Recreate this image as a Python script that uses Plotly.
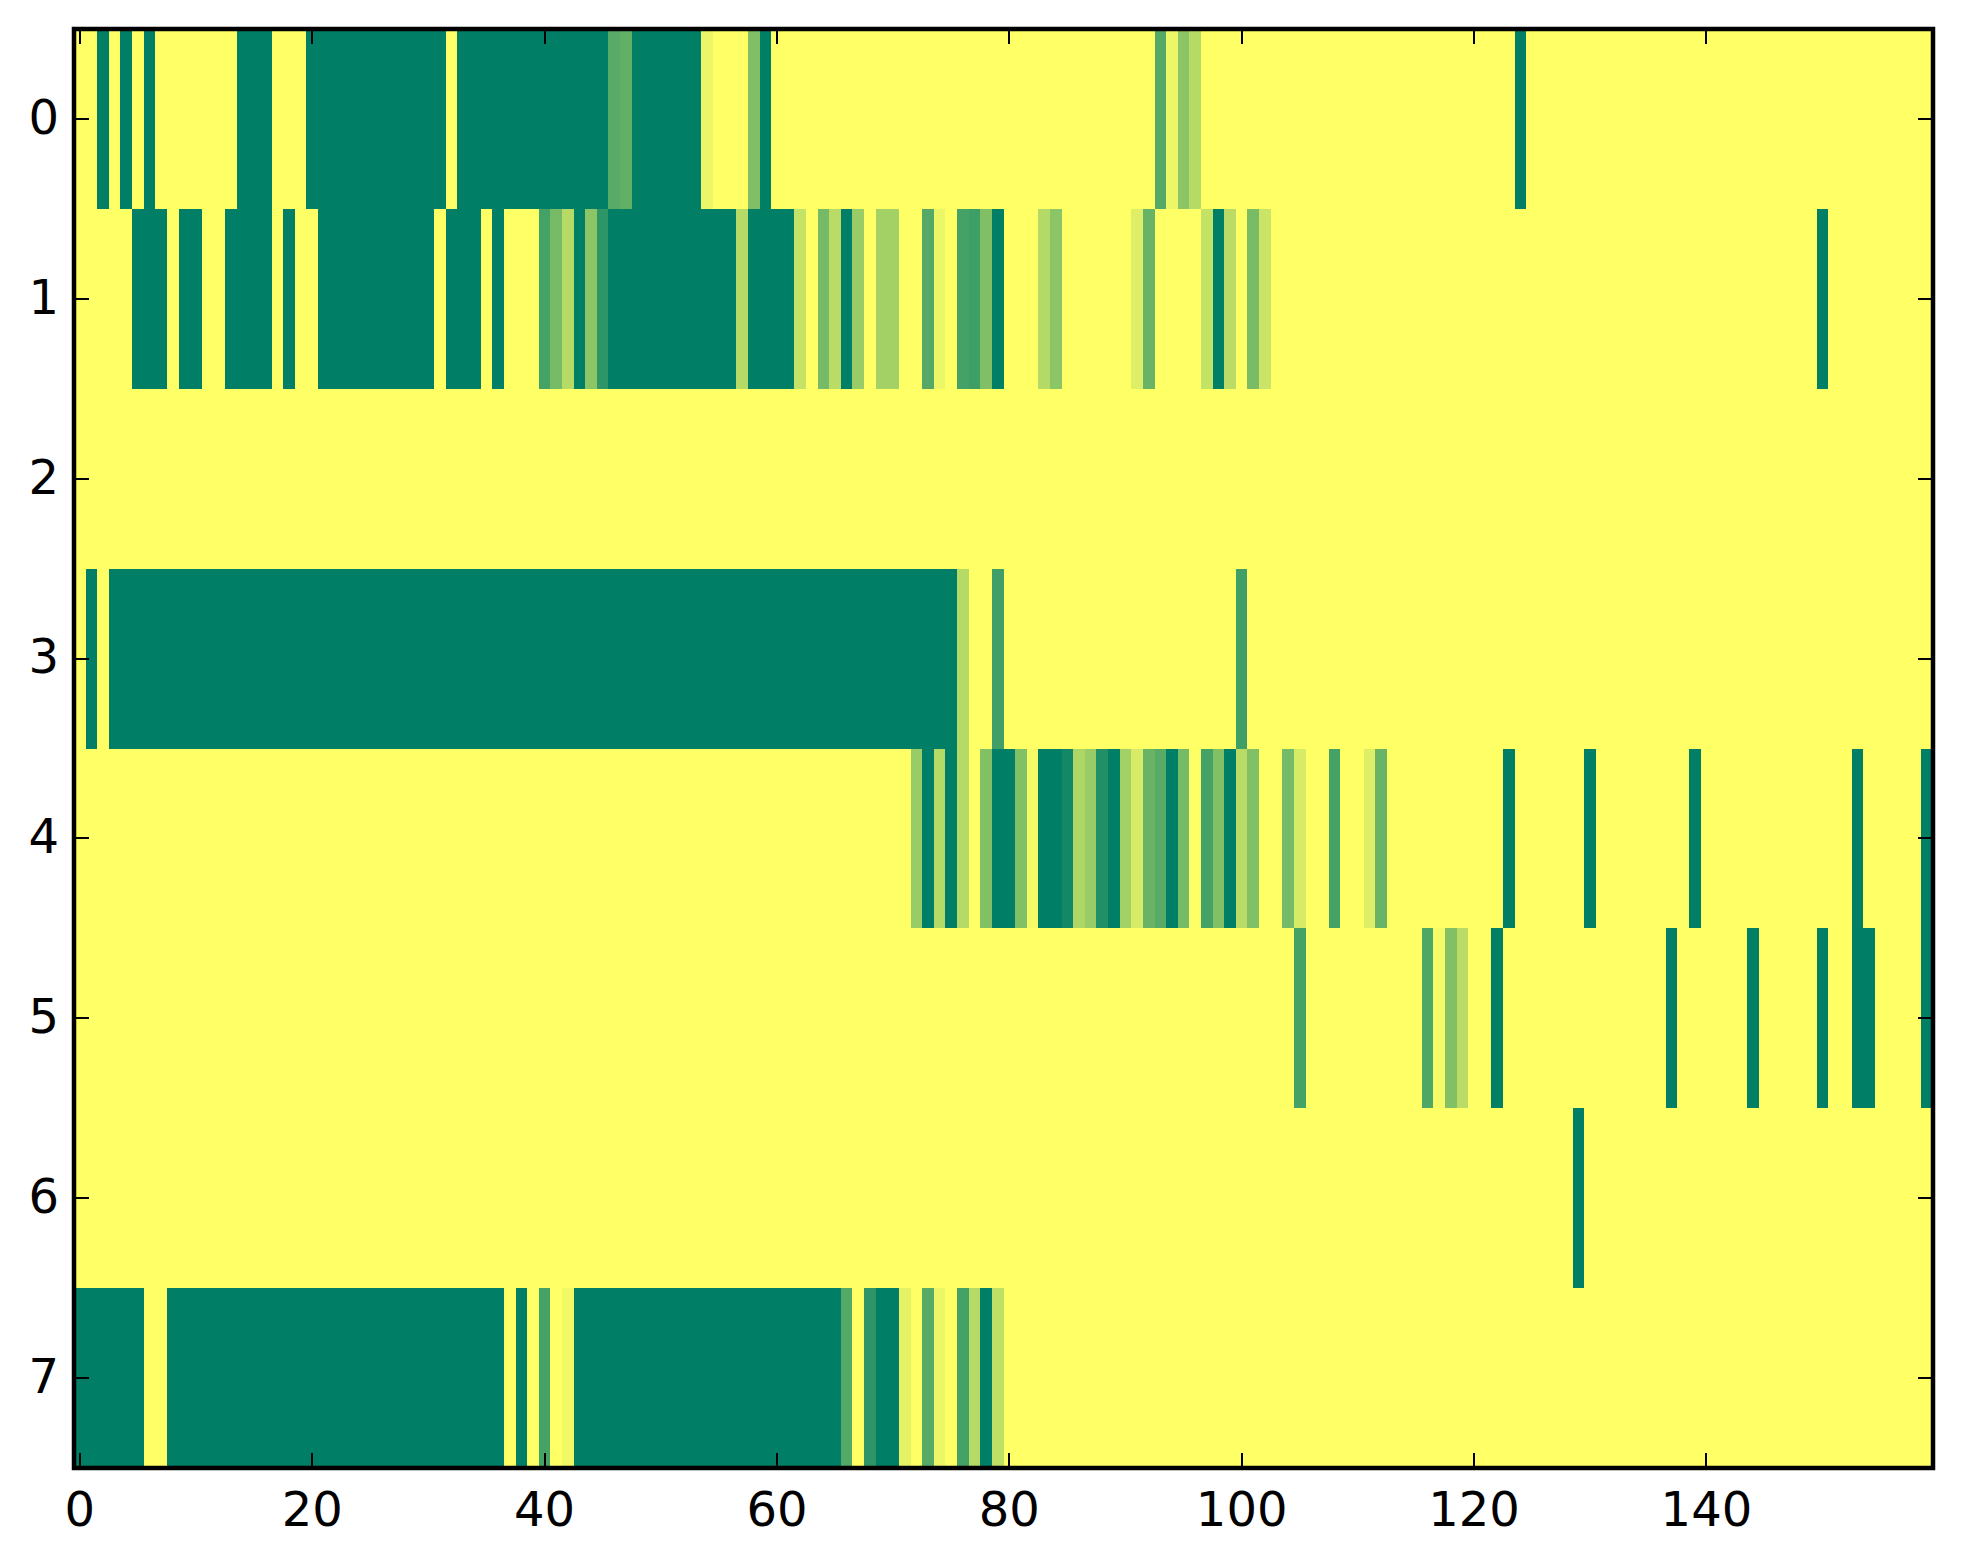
import plotly.graph_objects as go

N_COLS = 160
TICKS_X = [0, 20, 40, 60, 80, 100, 120, 140]
TICKS_Y = [0, 1, 2, 3, 4, 5, 6, 7]
COLORSCALE = [[0, "#ffff66"], [1, "#007f66"]]

# (first column, last column, value); every other cell is 0
row0 = [(2, 2, 1), (4, 4, 1), (6, 6, 1), (14, 16, 1), (20, 31, 1), (33, 45, 1),
        (46, 46, .66), (47, 47, .62), (48, 53, 1), (54, 54, .07), (58, 58, .5),
        (59, 59, 1), (93, 93, .67), (94, 94, .07), (95, 95, .45), (96, 96, .29),
        (124, 124, 1)]
row1 = [(5, 7, 1), (9, 10, 1), (13, 16, 1), (18, 18, 1), (21, 30, 1), (32, 34, 1),
        (36, 36, 1), (40, 40, .73), (41, 41, .53), (42, 42, .29), (43, 43, 1),
        (44, 44, .45), (45, 45, .82), (46, 56, 1), (57, 57, .29), (58, 61, 1),
        (62, 62, .23), (64, 64, .54), (65, 65, .27), (66, 66, 1), (67, 67, .4),
        (69, 70, .36), (73, 73, .67), (74, 74, .07), (76, 76, .73), (77, 77, .76),
        (78, 78, .5), (79, 79, 1), (83, 83, .3), (84, 84, .45), (91, 91, .13),
        (92, 92, .59), (97, 97, .23), (98, 98, 1), (99, 99, .27), (101, 101, .52),
        (102, 102, .21), (150, 150, 1)]
row2 = []
row3 = [(1, 1, 1), (3, 75, 1), (76, 76, .29), (79, 79, .75), (100, 100, .75)]
row4 = [(72, 72, .4), (73, 73, 1), (74, 74, .29), (75, 75, 1), (76, 76, .29), (78, 78, .49),
        (79, 80, 1), (81, 81, .49), (82, 82, .04), (83, 84, 1), (85, 85, .93),
        (86, 86, .32), (87, 87, .4), (88, 88, .87), (89, 89, 1), (90, 90, .36),
        (91, 91, .16), (92, 92, .59), (93, 93, .66), (94, 94, 1), (95, 95, .54),
        (97, 97, .73), (98, 98, .49), (99, 99, 1), (100, 100, .27), (101, 101, .49),
        (104, 104, .54), (105, 105, .16), (108, 108, .73), (111, 111, .13),
        (112, 112, .59), (123, 123, 1), (130, 130, 1), (139, 139, 1), (153, 153, 1),
        (159, 159, 1)]
row5 = [(105, 105, .73), (116, 116, .69), (117, 117, .04), (118, 118, .49),
        (119, 119, .27), (122, 122, 1), (137, 137, 1), (144, 144, 1), (150, 150, 1),
        (153, 154, 1), (159, 159, 1)]
row6 = [(129, 129, 1)]
row7 = [(0, 5, 1), (8, 36, 1), (38, 38, 1), (40, 40, .73), (42, 42, .05), (43, 65, 1),
        (66, 66, .67), (68, 68, .82), (69, 70, 1), (71, 71, .1), (73, 73, .66),
        (74, 74, .07), (76, 76, .73), (77, 77, .29), (78, 78, 1), (79, 79, .25)]
ROWS = [row0, row1, row2, row3, row4, row5, row6, row7]


def expand(runs):
    cells = [0.0] * N_COLS
    for first, last, value in runs:
        for col in range(first, last + 1):
            cells[col] = value
    return cells


W, H = 1963, 1564
L, R, T, B = 73.5, 1933, 28.5, 1468

fig = go.Figure(go.Heatmap(z=[expand(r) for r in ROWS], zmin=0, zmax=1,
                           colorscale=COLORSCALE, showscale=False))
axis = dict(showgrid=False, zeroline=False, showline=False, ticks="inside",
            ticklen=15, tickwidth=2, tickcolor="black", mirror="allticks",
            tickfont=dict(family="DejaVu Sans", size=48, color="black"))
fig.update_xaxes(range=[-0.5, 159.5], tickvals=TICKS_X, ticktext=[str(t) for t in TICKS_X],
                 ticklabelstandoff=9, **axis)
fig.update_yaxes(range=[7.5, -0.5], tickvals=TICKS_Y, ticktext=[str(t) for t in TICKS_Y],
                 ticklabelstandoff=14, ticklabelshift=2, **axis)
fig.add_shape(type="rect", xref="paper", yref="paper", x0=0, x1=1, y0=0, y1=1,
              line=dict(color="black", width=4.5), fillcolor="rgba(0,0,0,0)", layer="above")
fig.update_layout(width=W, height=H, paper_bgcolor="white", plot_bgcolor="white",
                  margin=dict(l=L, r=W - R, t=T, b=H - B, pad=0), autosize=False)
fig.write_html("out.html", config={"displayModeBar": False},
               post_script="document.body.style.margin='0';document.body.style.overflow='hidden';")
